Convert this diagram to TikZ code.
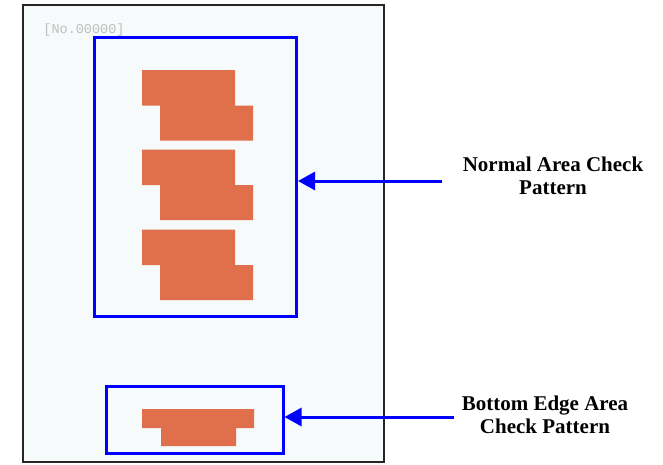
\documentclass[tikz,border=0pt]{standalone}
\usepackage{fontspec}
\setmainfont{Liberation Serif}
\setmonofont{Liberation Mono}
\usepackage{xcolor}
\usetikzlibrary{positioning, arrows.meta}

\definecolor{paperfill}{RGB}{246,250,250}
\definecolor{patorange}{RGB}{224,112,76}

\begin{document}
\begin{tikzpicture}[
  x=1pt, y=-1pt,
  sheet/.style={draw=black!85, line width=2pt, fill=paperfill},
  areabox/.style={rectangle, draw=blue, line width=3pt, inner sep=0pt},
  pattern/.style={fill=patorange, draw=none},
  label/.style={font=\fontsize{21}{23}\selectfont\bfseries, align=center, inner sep=0pt},
  arrow/.style={-{Triangle[length=17pt, width=18pt]}, draw=blue, line width=3pt},
  every node/.style={align=center}
]
\useasboundingbox (0,0) rectangle (663,464);

%% Test sheet
\draw[sheet] (23,5) rectangle (384,462);
\node[font=\fontsize{13.5}{14}\selectfont\ttfamily, text=black!25, inner sep=0pt] (serial) at (84,30) {[No.00000]};

%% Normal area check patterns
\foreach \top in {70,149.5,229.5} {
  \fill[pattern] (142,\top) -- (235,\top) -- (235,\top+35.5) -- (253,\top+35.5)
    -- (253,\top+70.5) -- (160,\top+70.5) -- (160,\top+35.5) -- (142,\top+35.5) -- cycle;
}

%% Bottom edge area check pattern
\fill[pattern] (142,409) -- (254,409) -- (254,428) -- (236,428) -- (236,446)
  -- (161,446) -- (161,428) -- (142,428) -- cycle;

%% Area boxes
\node[areabox, minimum width=202pt, minimum height=279pt] (normal) at (195.5,176.5) {};
\node[areabox, minimum width=177pt, minimum height=67pt] (bottom) at (194.5,419.5) {};

%% Labels
\node[label] (normallbl) at (553,176) {Normal Area Check\\Pattern};
\node[label] (bottomlbl) at (545,415) {Bottom Edge Area\\Check Pattern};

\coordinate (normalfrom) at (442,181);
\coordinate (bottomfrom) at (454,417);

%% Connections
\draw[arrow] (normalfrom) -- (normal.east |- normalfrom);
\draw[arrow] (bottomfrom) -- (bottom.east |- bottomfrom);

\end{tikzpicture}
\end{document}
